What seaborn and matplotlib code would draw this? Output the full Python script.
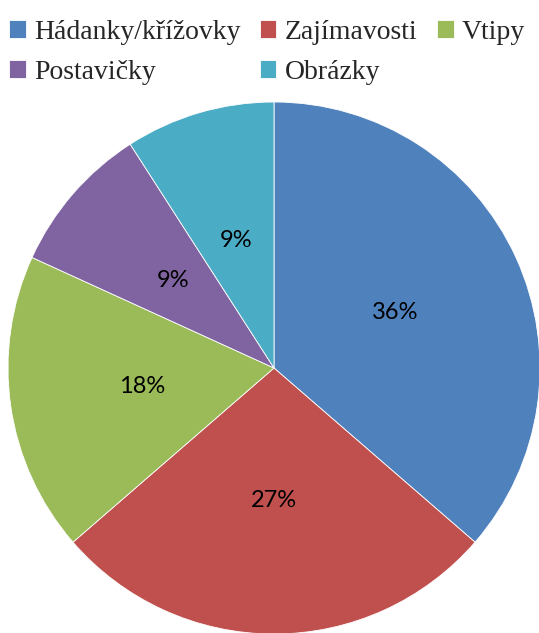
import matplotlib

matplotlib.use("Agg")
import matplotlib.pyplot as plt
import seaborn as sns

categories = ["Hádanky/křížovky", "Zajímavosti", "Vtipy", "Postavičky", "Obrázky"]
counts = [4, 3, 2, 1, 1]
colors = ["#4F81BD", "#C0504D", "#9BBB59", "#8064A2", "#4BACC6"]


def main() -> None:
    sns.set_theme(style="white")
    palette = sns.color_palette(colors)

    fig = plt.figure(figsize=(5.39, 6.33), dpi=100)
    ax = fig.add_axes([8 / 539, -1 / 633, 532 / 539, 532 / 633])

    wedges, _, autotexts = ax.pie(
        counts,
        colors=palette,
        startangle=90,
        counterclock=False,
        autopct="%1.0f%%",
        pctdistance=0.5,
        radius=1.0,
        wedgeprops={"edgecolor": "white", "linewidth": 0.6},
    )
    for t in autotexts:
        t.set_fontfamily(["Lato", "DejaVu Sans"])
        t.set_fontsize(17)
        t.set_color("black")
    ax.set_xlim(-1, 1)
    ax.set_ylim(-1, 1)
    ax.set_aspect("equal")
    ax.axis("off")

    # legend is filled column by column: reorder so rows read H, Z, V / P, O
    order = [0, 3, 1, 4, 2]
    fig.legend(
        [wedges[i] for i in order],
        [categories[i] for i in order],
        ncol=3,
        loc="upper left",
        bbox_to_anchor=(0.001, 0.982),
        frameon=False,
        prop={"family": ["Liberation Serif", "DejaVu Serif"], "size": 20},
        handlelength=0.6,
        handleheight=0.6,
        handletextpad=0.3,
        columnspacing=0.7,
        labelspacing=0.55,
        borderaxespad=0.0,
        borderpad=0.3,
    )

    fig.savefig("out.png", dpi=100)
    plt.close(fig)


if __name__ == "__main__":
    main()
